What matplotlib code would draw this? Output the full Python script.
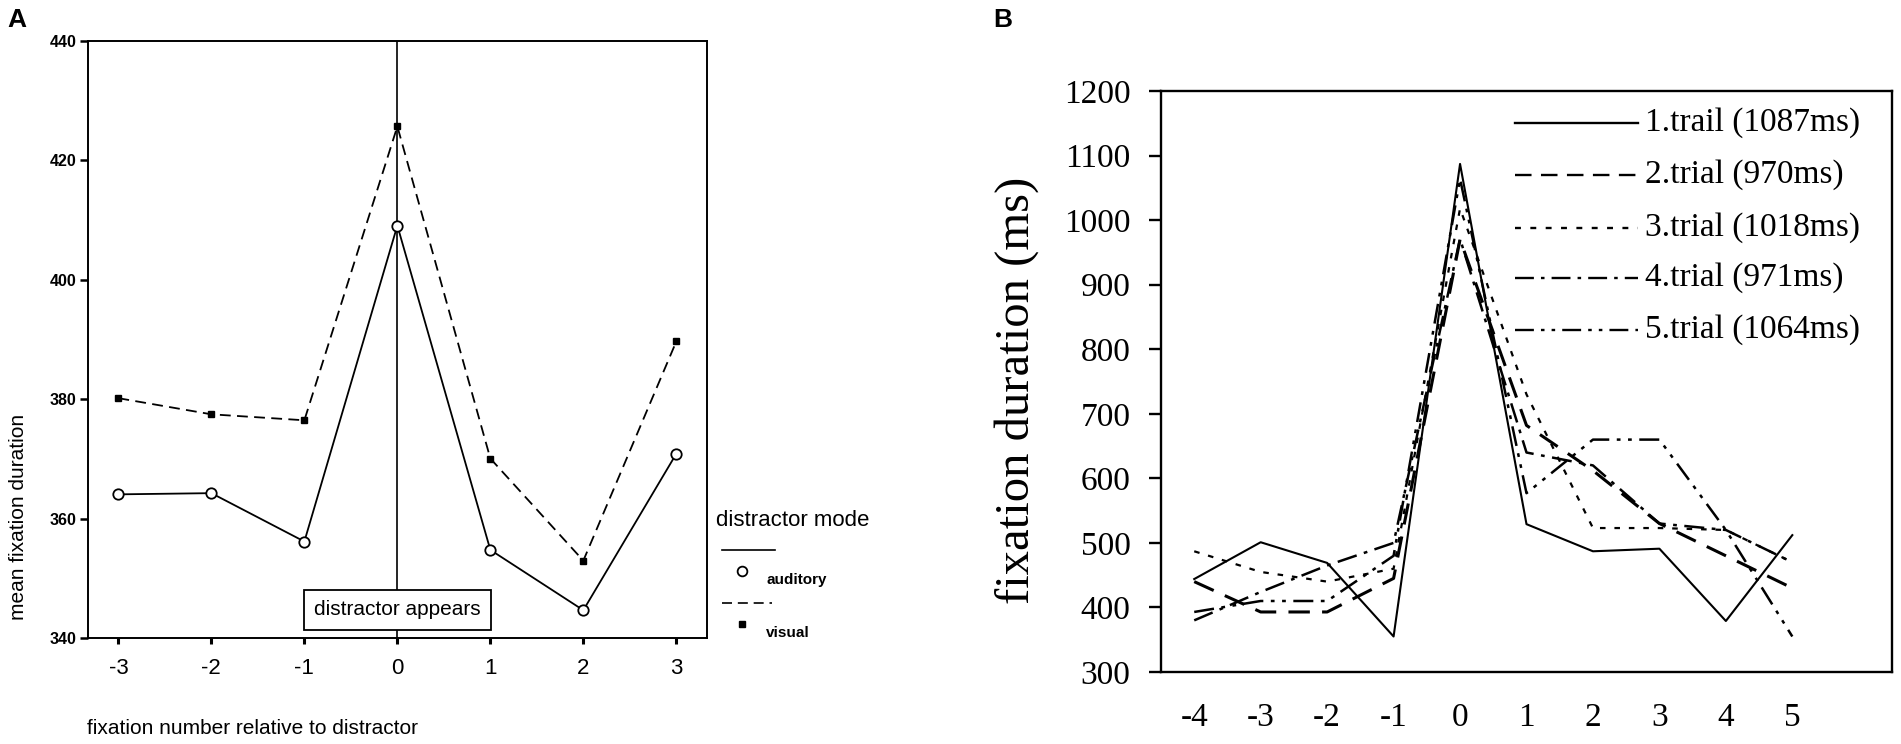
import matplotlib
matplotlib.use("Agg")
import matplotlib.pyplot as plt
from matplotlib.lines import Line2D

plt.rcParams["axes.unicode_minus"] = False

# ---------------- data ----------------
# Panel A
a_x = [-3, -2, -1, 0, 1, 2, 3]
a_auditory = [364.1, 364.3, 356.2, 409.1, 354.8, 344.7, 370.9]
a_visual = [380.2, 377.5, 376.5, 425.7, 370.1, 353.0, 389.7]
a_yticks = [340, 360, 380, 400, 420, 440]
a_series_names = ["auditory", "visual"]

# Panel B
b_x = [-4, -3, -2, -1, 0, 1, 2, 3, 4, 5]
b_trial1 = [444, 501, 469, 355, 1087, 529, 487, 491, 379, 512]
b_trial2 = [440, 393, 393, 445, 970, 682, 612, 530, 480, 430]
b_trial3 = [487, 455, 440, 460, 1018, 730, 523, 523, 520, 470]
b_trial4 = [380, 424, 465, 500, 971, 640, 620, 530, 520, 470]
b_trial5 = [393, 410, 410, 480, 1064, 577, 660, 660, 520, 355]
b_labels = ["1.trail (1087ms)", "2.trial (970ms)", "3.trial (1018ms)",
            "4.trial (971ms)", "5.trial (1064ms)"]
b_yticks = [300, 400, 500, 600, 700, 800, 900, 1000, 1100, 1200]

# ---------------- layout helpers ----------------
W, H = 1901, 744
fig = plt.figure(figsize=(W / 100, H / 100), dpi=100)
fig.patch.set_facecolor("white")


def fx(px):
    return px / W


def fy(py):
    return 1 - py / H


SANS = ["Liberation Sans", "DejaVu Sans"]
SERIF = ["Liberation Serif", "DejaVu Serif"]

# ================= Panel A =================
axA = fig.add_axes([fx(87.7), fy(638.3), (707 - 87.7) / W, (638.3 - 41) / H])
axA.set_xlim(-3.33, 3.33)
axA.set_ylim(340, 440)
axA.axvline(0, color="black", lw=1.2, zorder=1)
axA.plot(a_x, a_auditory, color="black", lw=1.3, marker="o", markersize=7.5,
         markerfacecolor="white", markeredgecolor="black", markeredgewidth=1.3,
         zorder=3)
axA.plot(a_x, a_visual, color="black", lw=1.3, linestyle=(0, (6, 3.5)),
         marker="s", markersize=4.5, markerfacecolor="black",
         markeredgecolor="black", zorder=3)
axA.text(0, 344.8, "distractor appears", ha="center", va="center",
         fontsize=15, family=SANS, zorder=5,
         bbox=dict(boxstyle="square,pad=0.5", facecolor="white",
                   edgecolor="black", lw=1.3))
for s in axA.spines.values():
    s.set_linewidth(1.4)
axA.set_yticks(a_yticks)
axA.set_xticks(a_x)
axA.tick_params(axis="y", direction="out", length=6, width=1.8, pad=2,
                labelsize=11.5)
axA.tick_params(axis="x", direction="out", length=4, width=2.2, pad=10,
                labelsize=16)
for lbl in axA.get_yticklabels():
    lbl.set_fontweight("bold")
    lbl.set_family(SANS)
for lbl in axA.get_xticklabels():
    lbl.set_family(SANS)

fig.text(fx(7), fy(20), "A", fontsize=19, fontweight="bold", family=SANS,
         ha="left", va="center")
fig.text(fx(19), fy(517), "mean fixation duration", rotation=90, fontsize=15,
         family=SANS, ha="center", va="center")
fig.text(fx(87), fy(728), "fixation number relative to distractor",
         fontsize=15, family=SANS, ha="left", va="center")

# legend A
fig.text(fx(716), fy(520), "distractor mode", fontsize=16, family=SANS,
         ha="left", va="center")
fig.add_artist(Line2D([fx(722), fx(775)], [fy(550), fy(550)], color="black",
                      lw=1.2))
fig.add_artist(Line2D([fx(741.7)], [fy(571)], marker="o", markersize=7,
                      markerfacecolor="white", markeredgecolor="black",
                      markeredgewidth=1.3, linestyle="none"))
fig.text(fx(766), fy(580), a_series_names[0], fontsize=11, family=SANS,
         fontweight="bold", ha="left", va="center")
fig.add_artist(Line2D([fx(722), fx(772)], [fy(603), fy(603)], color="black",
                      lw=1.2, linestyle=(0, (6, 3.5))))
fig.add_artist(Line2D([fx(741.7)], [fy(624)], marker="s", markersize=4.5,
                      markerfacecolor="black", markeredgecolor="black",
                      linestyle="none"))
fig.text(fx(766), fy(633), a_series_names[1], fontsize=11, family=SANS,
         fontweight="bold", ha="left", va="center")

# ================= Panel B =================
axB = fig.add_axes([fx(1161), fy(672), (1892 - 1161) / W, (672 - 91) / H])
axB.set_xlim(-4.5, 6.5)
axB.set_ylim(300, 1200)

styles = [
    dict(linestyle="-", lw=1.5),
    dict(linestyle=(0, (7, 4)), lw=2.2),
    dict(linestyle=(0, (2.5, 4)), lw=1.6),
    dict(linestyle=(0, (8, 3, 1.5, 3)), lw=1.8),
    dict(linestyle=(0, (8, 3, 1.5, 3, 1.5, 3)), lw=1.8),
]
series = [b_trial1, b_trial2, b_trial3, b_trial4, b_trial5]
for ys, st in zip(series, styles):
    axB.plot(b_x, ys, color="black", **st)

for s in axB.spines.values():
    s.set_linewidth(1.7)
axB.set_yticks(b_yticks)
axB.set_xticks(b_x)
axB.tick_params(axis="y", direction="out", length=9, width=1.7, pad=13,
                labelsize=24)
axB.tick_params(axis="x", length=0, pad=22, labelsize=24)
for lbl in axB.get_yticklabels() + axB.get_xticklabels():
    lbl.set_family(SERIF)

fig.text(fx(993), fy(20), "B", fontsize=19, fontweight="bold", family=SANS,
         ha="left", va="center")
fig.text(fx(1017), fy(390), "fixation duration (ms)", rotation=90,
         fontsize=35, family=SERIF, ha="center", va="center")

# legend B
rows = [123, 175, 228, 278, 330]
for ry, lab, st in zip(rows, b_labels, styles):
    fig.add_artist(Line2D([fx(1515), fx(1638)], [fy(ry), fy(ry)],
                          color="black", linestyle=st["linestyle"], lw=1.7))
    fig.text(fx(1645), fy(ry), lab, fontsize=24, family=SERIF,
             ha="left", va="center")

fig.savefig("out.png", dpi=100, facecolor="white")
